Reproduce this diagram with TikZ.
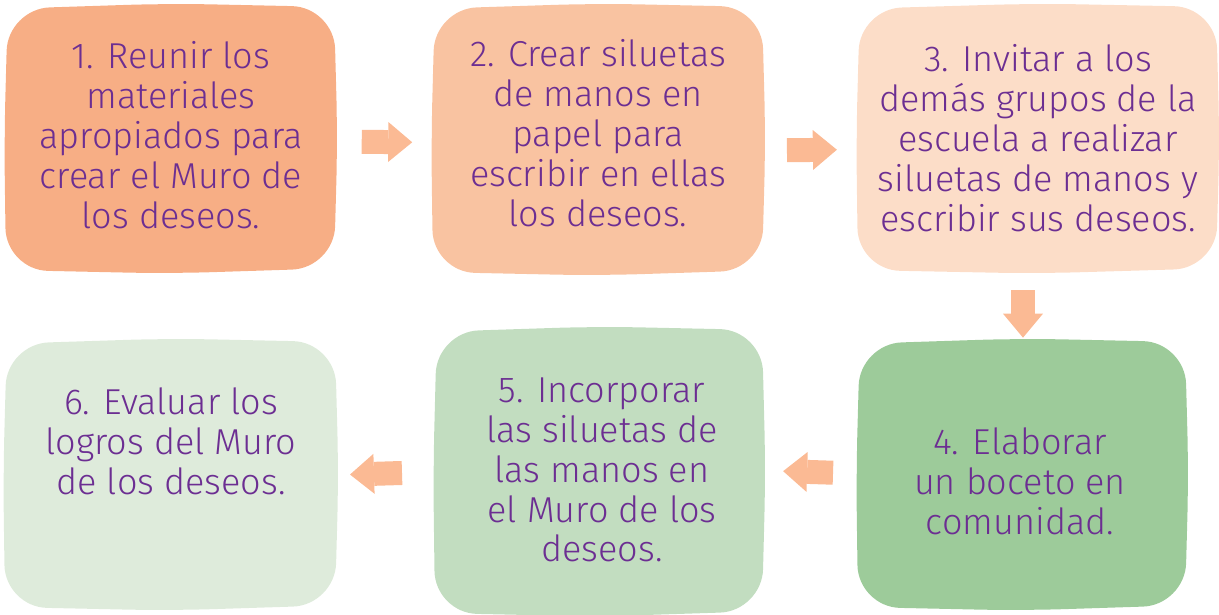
\documentclass[tikz,border=0pt]{standalone}
\usepackage{fontspec}
\setmainfont{Fira Sans}[UprightFont=* Light]
\usetikzlibrary{arrows.meta,calc}

\definecolor{naranjaA}{RGB}{247,174,133}
\definecolor{naranjaB}{RGB}{249,195,161}
\definecolor{naranjaC}{RGB}{252,221,200}
\definecolor{verdeA}{RGB}{157,203,154}
\definecolor{verdeB}{RGB}{194,221,192}
\definecolor{verdeC}{RGB}{222,235,219}
\definecolor{salmon}{RGB}{251,186,148}
\definecolor{morado}{RGB}{108,46,146}

% fondo irregular de cada paso
\newcommand{\fondo}[2]{%
  \fill[#2, rounded corners=24pt]
    ([xshift=1pt,yshift=-1pt]#1.north west) -- ([yshift=2pt]#1.north) -- (#1.north east)
    -- ([xshift=2pt]#1.east) -- ([yshift=1pt]#1.south east) -- ([yshift=-2pt]#1.south)
    -- (#1.south west) -- ([xshift=-1pt]#1.west) -- cycle;}

\tikzset{
  paso/.style={inner sep=0pt, outer sep=0pt},
  texto/.style={text=morado, align=center, font=\fontsize{20.5}{22.7}\selectfont},
  flecha/.style={draw=salmon, line width=0.48cm,
    -{Triangle[width=0.8cm,length=0.48cm,line width=0pt]}}
}

\begin{document}
\begin{tikzpicture}
    \useasboundingbox (0,0) rectangle (24.38,-12.30);

    % Cajas de los pasos
    \node[paso, minimum width=6.56cm, minimum height=5.26cm] (b1) at (3.40,-2.77) {};
    \node[paso, minimum width=6.58cm, minimum height=5.30cm] (b2) at (11.95,-2.79) {};
    \node[paso, minimum width=7.16cm, minimum height=5.26cm] (b3) at (20.74,-2.77) {};
    \node[paso, minimum width=6.54cm, minimum height=5.30cm] (b4) at (20.43,-9.49) {};
    \node[paso, minimum width=6.54cm, minimum height=5.66cm] (b5) at (11.97,-9.43) {};
    \node[paso, minimum width=6.60cm, minimum height=5.30cm] (b6) at (3.40,-9.49) {};

    % Fondos de color
    \fondo{b1}{naranjaA}
    \fondo{b2}{naranjaB}
    \fondo{b3}{naranjaC}
    \fondo{b4}{verdeA}
    \fondo{b5}{verdeB}
    \fondo{b6}{verdeC}

    % Textos
    \node[texto] (t1) at (3.42,-2.70) {1. Reunir los\\materiales\\apropiados para\\crear el Muro de\\los deseos.};
    \node[texto] (t2) at (11.96,-2.66) {2. Crear siluetas\\de manos en\\papel para\\escribir en ellas\\los deseos.};
    \node[texto] (t3) at (20.76,-2.76) {3. Invitar a los\\demás grupos de la\\escuela a realizar\\siluetas de manos y\\escribir sus deseos.};
    \node[texto] (t4) at (20.40,-9.62) {4. Elaborar\\un boceto en\\comunidad.};
    \node[texto] (t5) at (12.04,-9.40) {5. Incorporar\\las siluetas de\\las manos en\\el Muro de los\\deseos.};
    \node[texto] (t6) at (3.42,-8.82) {6. Evaluar los\\logros del Muro\\de los deseos.};

    % Flechas entre pasos
    \draw[flecha] ($(b1.east)!0.28!(b2.west)+(0,-0.06)$) -- ($(b1.east)!0.79!(b2.west)+(0,-0.06)$);
    \draw[flecha] ($(b2.east)!0.26!(b3.west)+(0,-0.22)$) -- ($(b2.east)!0.78!(b3.west)+(0,-0.22)$);
    \draw[flecha] ($(b3.south -| b4.north)!0.28!(b4.north)+(0.03,0)$) -- ($(b3.south -| b4.north)!0.94!(b4.north)+(0.03,0)$);
    \draw[flecha] ($(b4.west)!0.26!(b5.east)+(0,0.02)$) -- ($(b4.west)!0.78!(b5.east)+(0,0.02)$);
    \draw[flecha] ($(b5.west)!0.33!(b6.east)+(0,-0.01)$) -- ($(b5.west)!0.85!(b6.east)+(0,-0.01)$);
\end{tikzpicture}
\end{document}
